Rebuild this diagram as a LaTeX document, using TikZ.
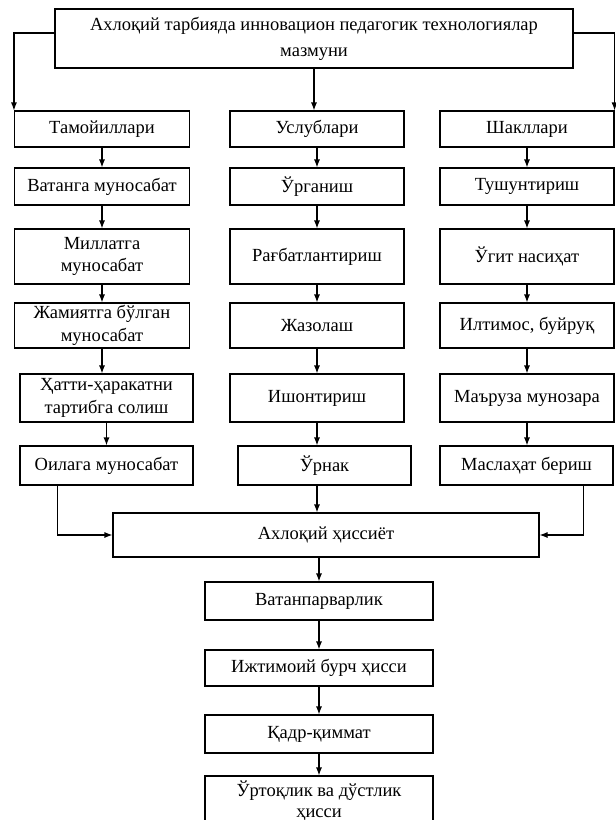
\documentclass[tikz,border=0pt]{standalone}
\usepackage{fontspec}
\setmainfont{Liberation Serif}
\usetikzlibrary{arrows.meta}
\tikzset{
  blok/.style={draw, line width=1.1pt, align=center, inner sep=0pt, font=\fontsize{18.5}{22.5}\selectfont},
  strelka/.style={-{Latex[length=8pt,width=6pt]}, line width=1.1pt}
}
\begin{document}
\begin{tikzpicture}[x=1pt, y=-1pt]
     \useasboundingbox (0,0) rectangle (616,820);
     \fill [white] (0,0) rectangle (616,820);
     \clip (0,0) rectangle (616,820);
     % sarlavha
     \node [blok, minimum width=518pt, minimum height=59pt, font=\fontsize{18.5}{26}\selectfont] (tepa) at (314,38.5) {Ахлоқий тарбияда инновацион педагогик технологиялар\\мазмуни};
     % chap ustun
     \node [blok, minimum width=175pt, minimum height=36pt] (tamoyil) at (102,129) {Тамойиллари};
     \node [blok, minimum width=175pt, minimum height=37pt] (vatanga) at (102,186.5) {Ватанга муносабат};
     \node [blok, minimum width=175pt, minimum height=55pt] (millat) at (102,256.5) {Миллатга\\муносабат};
     \node [blok, minimum width=175pt, minimum height=45pt] (jamiyat) at (102,325.5) {Жамиятга бўлган\\муносабат};
     \node [blok, minimum width=173pt, minimum height=48pt] (hatti) at (106.5,398) {Ҳатти-ҳаракатни\\тартибга солиш};
     \node [blok, minimum width=173pt, minimum height=39pt] (oila) at (106.5,465.5) {Оилага муносабат};
     % o'rta ustun
     \node [blok, minimum width=174pt, minimum height=36pt] (uslub) at (317,129) {Услублари};
     \node [blok, minimum width=174pt, minimum height=37pt] (urganish) at (317,186.5) {Ўрганиш};
     \node [blok, minimum width=174pt, minimum height=55pt] (ragbat) at (317,256.5) {Рағбатлантириш};
     \node [blok, minimum width=174pt, minimum height=45pt] (jazo) at (317,325.5) {Жазолаш};
     \node [blok, minimum width=174pt, minimum height=48pt] (ishonch) at (317,398) {Ишонтириш};
     \node [blok, minimum width=173pt, minimum height=39pt] (urnak) at (324.5,465.5) {Ўрнак};
     % o'ng ustun
     \node [blok, minimum width=174pt, minimum height=36pt] (shakl) at (527,129) {Шакллари};
     \node [blok, minimum width=174pt, minimum height=37pt] (tushun) at (527,186.5) {Тушунтириш};
     \node [blok, minimum width=174pt, minimum height=55pt] (ugit) at (527,256.5) {Ўгит насиҳат};
     \node [blok, minimum width=174pt, minimum height=45pt] (iltimos) at (527,325.5) {Илтимос, буйруқ};
     \node [blok, minimum width=174pt, minimum height=48pt] (maruza) at (527,398) {Маъруза мунозара};
     \node [blok, minimum width=173pt, minimum height=39pt] (maslahat) at (526.5,465.5) {Маслаҳат бериш};
     % pastki qism
     \node [blok, minimum width=426pt, minimum height=44pt] (axloq) at (326,535) {Ахлоқий ҳиссиёт};
     \node [blok, minimum width=228pt, minimum height=38pt] (vatanparvar) at (319,601) {Ватанпарварлик};
     \node [blok, minimum width=228pt, minimum height=36pt] (ijtimoiy) at (319,668) {Ижтимоий бурч ҳисси};
     \node [blok, minimum width=228pt, minimum height=38pt] (qadr) at (319,734) {Қадр-қиммат};
     \node [blok, minimum width=228pt, minimum height=50pt, font=\fontsize{18.5}{21}\selectfont] (urtoq) at (319,801) {Ўртоқлик ва дўстлик\\ҳисси};
     % strelkalar
     \draw [strelka] ([yshift=5.5pt]tepa.west) -| (tamoyil.north west);
     \draw [strelka] ([yshift=5.5pt]tepa.east) -| (shakl.north east);
     \draw [strelka] (tepa.south) -- (tepa.south |- uslub.north);
     \draw [strelka] (tamoyil.south) -- (tamoyil.south |- vatanga.north);
     \draw [strelka] (vatanga.south) -- (vatanga.south |- millat.north);
     \draw [strelka] (millat.south) -- (millat.south |- jamiyat.north);
     \draw [strelka] (jamiyat.south) -- (jamiyat.south |- hatti.north);
     \draw [strelka] (hatti.south) -- (hatti.south |- oila.north);
     \draw [strelka] (uslub.south) -- (uslub.south |- urganish.north);
     \draw [strelka] (urganish.south) -- (urganish.south |- ragbat.north);
     \draw [strelka] (ragbat.south) -- (ragbat.south |- jazo.north);
     \draw [strelka] (jazo.south) -- (jazo.south |- ishonch.north);
     \draw [strelka] (ishonch.south) -- (ishonch.south |- urnak.north);
     \draw [strelka] (shakl.south) -- (shakl.south |- tushun.north);
     \draw [strelka] (tushun.south) -- (tushun.south |- ugit.north);
     \draw [strelka] (ugit.south) -- (ugit.south |- iltimos.north);
     \draw [strelka] (iltimos.south) -- (iltimos.south |- maruza.north);
     \draw [strelka] (maruza.south) -- (maruza.south |- maslahat.north);
     \draw [strelka] ([xshift=38pt]oila.south west) |- (axloq.west);
     \draw [strelka] ([xshift=-30pt]maslahat.south east) |- (axloq.east);
     \draw [strelka] (ishonch.south |- urnak.south) -- (ishonch.south |- axloq.north);
     \draw [strelka] (vatanparvar.north |- axloq.south) -- (vatanparvar.north);
     \draw [strelka] (vatanparvar.south) -- (ijtimoiy.north);
     \draw [strelka] (ijtimoiy.south) -- (qadr.north);
     \draw [strelka] (qadr.south) -- (urtoq.north);
 \end{tikzpicture}
\end{document}
